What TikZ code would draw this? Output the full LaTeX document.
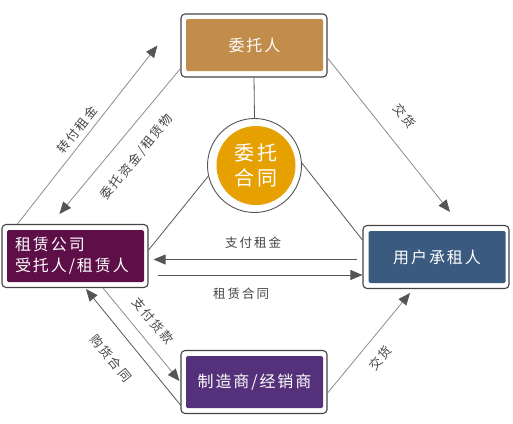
\documentclass[tikz,border=0pt]{standalone}
\usepackage{fontspec}
\setmainfont{Noto Sans CJK SC}
\newfontfamily\boxfont{Noto Sans CJK SC}[LetterSpace=12]
\newfontfamily\labelfont{Noto Sans CJK SC}[LetterSpace=16]
\usetikzlibrary{arrows.meta}

\definecolor{wtrcol}{HTML}{C28C4B}
\definecolor{zlgscol}{HTML}{5E0F48}
\definecolor{yhcol}{HTML}{3B5A80}
\definecolor{zzscol}{HTML}{55317B}
\definecolor{htcol}{HTML}{E6A100}
\definecolor{boxline}{HTML}{444444}
\definecolor{lightline}{HTML}{8C8C8C}
\definecolor{darkline}{HTML}{555555}
\definecolor{tipcol}{HTML}{555555}
\definecolor{labeltext}{HTML}{444444}

\tikzset{
    outerbox/.style={draw=boxline, line width=1.1pt, fill=white, rounded corners=4pt,
        minimum width=146pt, minimum height=63pt, inner sep=0pt},
    innerbox/.style={fill=#1, rounded corners=1.5pt, minimum width=137pt,
        minimum height=52pt, inner sep=0pt, text=white,
        font=\boxfont\fontsize{16}{21}\selectfont},
    lightarrow/.style={draw=lightline, line width=0.8pt,
        -{Triangle[length=12pt,width=10pt,color=tipcol]}},
    darkarrow/.style={draw=darkline, line width=0.8pt,
        -{Triangle[length=12pt,width=10pt,color=tipcol]}},
    link/.style={draw=darkline, line width=0.8pt},
    lbl/.style={font=\labelfont\fontsize{12.5}{14}\selectfont, text=labeltext, inner sep=0pt}
}

\begin{document}
\begin{tikzpicture}[x=1pt, y=-1pt]
    \useasboundingbox (0,0) rectangle (513,423);

    % the four parties
    \node[outerbox] (wtrbox) at (254,45.5) {};
    \node[innerbox=wtrcol] (wtr) at (254.5,45) {委托人};

    \node[outerbox] (zlgsbox) at (75,256) {};
    \node[innerbox=zlgscol, text width=121pt, align=left, inner xsep=8pt] (zlgs) at (75.5,256)
        {租赁公司\\受托人/租赁人};

    \node[outerbox] (yhczrbox) at (436,257) {};
    \node[innerbox=yhcol] (yhczr) at (437,257) {用户承租人};

    \node[outerbox] (zzsbox) at (254,382) {};
    \node[innerbox=zzscol] (zzs) at (254.5,382) {制造商/经销商};

    % contract in the middle
    \node[circle, draw=darkline, line width=0.9pt, fill=white, minimum size=94pt, inner sep=0pt]
        (ht) at (254.5,165.5) {};
    \node[circle, fill=htcol, minimum size=79pt, inner sep=0pt, text=white, align=center,
        font=\boxfont\fontsize{20}{25}\selectfont] (htin) at (256,165.5) {委托\\合同};

    \draw[link] (wtrbox.south) -- (ht.north);
    \draw[link] (ht.193) -- ([yshift=6pt]zlgsbox.east);
    \draw[link] (ht.3) -- ([yshift=17pt]yhczrbox.west);

    % flows
    \draw[lightarrow] ([yshift=-12.5pt]wtrbox.east) -- ([xshift=14pt,yshift=13pt]yhczrbox.north);
    \draw[lightarrow] ([xshift=16pt]zlgsbox.north west) -- ([xshift=-23pt]wtrbox.west);
    \draw[lightarrow] ([yshift=9pt]wtrbox.south west) -- ([xshift=58pt,yshift=10pt]zlgsbox.north west);
    \draw[darkarrow] ([xshift=-5pt,yshift=-2.5pt]yhczrbox.west) -- ([xshift=5pt,yshift=-3.5pt]zlgsbox.east);
    \draw[darkarrow] ([xshift=9pt,yshift=-19pt]zlgsbox.east) -- ([yshift=-18pt]yhczrbox.west);
    \draw[lightarrow] ([xshift=28pt]zlgsbox.south) -- ([xshift=-1pt,yshift=1pt]zzsbox.west);
    \draw[darkarrow] ([yshift=-23pt]zzsbox.west) -- ([xshift=11pt,yshift=-1pt]zlgsbox.south);
    \draw[lightarrow] ([yshift=-11pt]zzsbox.east) -- ([xshift=-26pt,yshift=-4pt]yhczrbox.south);

    % flow labels
    \node[lbl, rotate=-51.6] (jh1) at (405,116) {交货};
    \node[lbl, rotate=51.5] (zfzj) at (77,130) {转付租金};
    \node[lbl, rotate=51] (wtzj) at (137,157) {委托资金/租赁物};
    \node[lbl] (zfzj2) at (253,243) {支付租金};
    \node[lbl] (zlht) at (241,294) {租赁合同};
    \node[lbl, rotate=-50] (zfhk) at (153,321) {支付货款};
    \node[lbl, rotate=-51] (ghht) at (111,358) {购货合同};
    \node[lbl, rotate=50] (jh2) at (380,358) {交货};
\end{tikzpicture}
\end{document}
